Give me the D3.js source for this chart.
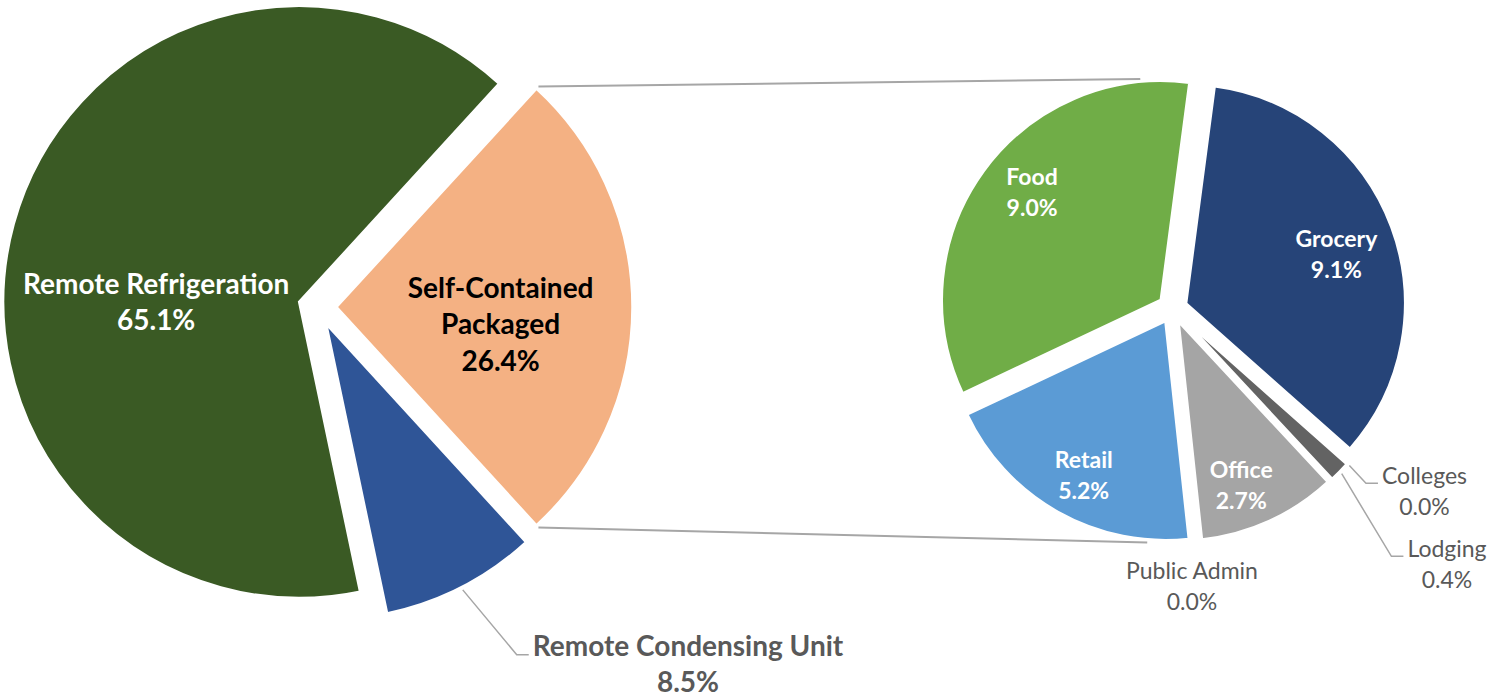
<!DOCTYPE html>
<html>
<head>
<meta charset="utf-8">
<script src="https://cdn.jsdelivr.net/npm/d3@7/dist/d3.min.js"></script>
<style>
  html, body { margin: 0; padding: 0; background: #ffffff; }
  svg { display: block; }
  text { font-family: Lato, "Open Sans", "DejaVu Sans", sans-serif; }
</style>
</head>
<body>
<svg id="chart" width="1500" height="697"></svg>
<script>
// Primary pie: refrigeration equipment type, share of total (%), in clockwise order
const equipTypes  = ["Self-Contained Packaged", "Remote Condensing Unit", "Remote Refrigeration"];
const equipShares = [26.4, 8.5, 65.1];
// The primary slice that is broken out into the secondary pie
const splitType = "Self-Contained Packaged";

// Secondary pie: Self-Contained Packaged by building type (%), clockwise from the top
const bldgTypes  = ["Grocery", "Colleges", "Lodging", "Office", "Public Admin", "Retail", "Food"];
const bldgShares = [9.1, 0.0, 0.4, 2.7, 0.0, 5.2, 9.0];

const colors = {
  "Remote Refrigeration": "#3a5a24",
  "Self-Contained Packaged": "#f4b183",
  "Remote Condensing Unit": "#2f5597",
  "Grocery": "#264478",
  "Colleges": "#a5a5a5",
  "Lodging": "#636363",
  "Office": "#a5a5a5",
  "Public Admin": "#7f7f7f",
  "Retail": "#5b9bd5",
  "Food": "#70ad47"
};

const deg = Math.PI / 180;
const fmtPct = v => d3.format(".1f")(v) + "%";
const svg = d3.select("#chart");

// ---- layout ----
const P1 = { cx: 317.5, cy: 307, r: 296, explode: 19 };
const P2 = { cx: 1172.5, cy: 308.5, r: 219, explode: 14.5, start: 7.5 * deg };

const polar = (cx, cy, r, a) => [cx + r * Math.sin(a), cy - r * Math.cos(a)];
const mid = d => (d.startAngle + d.endAngle) / 2;

// primary pie: split slice centred on the 3 o'clock direction
const splitIdx = equipTypes.indexOf(splitType);
const total1 = d3.sum(equipShares);
const startBefore = d3.sum(equipShares.slice(0, splitIdx));
const split0 = Math.PI / 2 - (equipShares[splitIdx] / total1) * Math.PI - (startBefore / total1) * 2 * Math.PI;

const pie1 = d3.pie().sort(null).value(d => d.value)
  .startAngle(split0).endAngle(split0 + 2 * Math.PI);
const pie2 = d3.pie().sort(null).value(d => d.value)
  .startAngle(P2.start).endAngle(P2.start + 2 * Math.PI);

const arcs1 = pie1(equipTypes.map((n, i) => ({ name: n, value: equipShares[i] })));
const arcs2 = pie2(bldgTypes.map((n, i) => ({ name: n, value: bldgShares[i] })));

// exploded vertex of each slice
arcs1.forEach(d => { d.vx = polar(P1.cx, P1.cy, P1.explode, mid(d)); });
arcs2.forEach(d => { d.vx = polar(P2.cx, P2.cy, P2.explode, mid(d)); });

const arc1 = d3.arc().innerRadius(0).outerRadius(P1.r);
const arc2 = d3.arc().innerRadius(0).outerRadius(P2.r);

// ---- connector lines between the split slice and the secondary pie ----
const split = arcs1[splitIdx];
const slice2At = a => {
  const t = ((a - P2.start) % (2 * Math.PI) + 2 * Math.PI) % (2 * Math.PI) + P2.start;
  return arcs2.find(d => t >= d.startAngle && t < d.endAngle && d.value > 0);
};
const connectorEnds = [
  { from: split.startAngle, to: -5.3 * deg },
  { from: split.endAngle, to: 184.7 * deg }
];
svg.append("g").attr("class", "connectors")
  .selectAll("line").data(connectorEnds).join("line")
  .attr("x1", d => polar(split.vx[0], split.vx[1], P1.r + 3, d.from)[0])
  .attr("y1", d => polar(split.vx[0], split.vx[1], P1.r + 3, d.from)[1])
  .attr("x2", d => { const s = slice2At(d.to); return polar(s.vx[0], s.vx[1], P2.r + 3, d.to)[0]; })
  .attr("y2", d => { const s = slice2At(d.to); return polar(s.vx[0], s.vx[1], P2.r + 3, d.to)[1]; })
  .attr("stroke", "#a6a6a6").attr("stroke-width", 2);

// ---- slices ----
svg.append("g").attr("class", "primary")
  .selectAll("path").data(arcs1).join("path")
  .attr("transform", d => `translate(${d.vx[0]},${d.vx[1]})`)
  .attr("d", arc1)
  .attr("fill", d => colors[d.data.name])
  .attr("stroke", "#ffffff").attr("stroke-width", 2.5).attr("stroke-linejoin", "miter");

svg.append("g").attr("class", "secondary")
  .selectAll("path").data(arcs2.filter(d => d.value > 0)).join("path")
  .attr("transform", d => `translate(${d.vx[0]},${d.vx[1]})`)
  .attr("d", arc2)
  .attr("fill", d => colors[d.data.name])
  .attr("stroke", "#ffffff").attr("stroke-width", 2.5).attr("stroke-linejoin", "miter");

// ---- data labels ----
// inside labels: polar position (angle, distance) from the slice vertex
// outside labels: block centre plus a leader line from the slice edge
const labelStyle = {
  bigBold:   { size: 28, weight: 700, lh: 36.7 },
  smallBold: { size: 23, weight: 700, lh: 31 },
  small:     { size: 23, weight: 400, lh: 30.5 }
};
const labels1 = {
  "Remote Refrigeration":    { lines: ["Remote Refrigeration"], style: "bigBold", fill: "#ffffff", angle: 270, dist: 143 },
  "Self-Contained Packaged": { lines: ["Self-Contained", "Packaged"], style: "bigBold", fill: "#000000", angle: 96, dist: 165 },
  "Remote Condensing Unit":  { lines: ["Remote Condensing Unit"], style: "bigBold", fill: "#595959", at: [688, 664], leader: true }
};
const labels2 = {
  "Food":         { lines: ["Food"], style: "smallBold", fill: "#ffffff", angle: 310, dist: 168 },
  "Grocery":      { lines: ["Grocery"], style: "smallBold", fill: "#ffffff", angle: 72, dist: 158 },
  "Retail":       { lines: ["Retail"], style: "smallBold", fill: "#ffffff", angle: 208, dist: 174 },
  "Office":       { lines: ["Office"], style: "smallBold", fill: "#ffffff", angle: 159, dist: 175 },
  "Colleges":     { lines: ["Colleges"], style: "small", fill: "#595959", at: [1424.5, 491.3], leader: true },
  "Lodging":      { lines: ["Lodging"], style: "small", fill: "#595959", at: [1447, 564.3], leader: true },
  "Public Admin": { lines: ["Public Admin"], style: "small", fill: "#595959", at: [1192, 586.3], leader: false }
};

const gLabels = svg.append("g").attr("class", "labels");
const gLeaders = svg.append("g").attr("class", "leaders");

function drawLabel(d, cfg, pie) {
  const st = labelStyle[cfg.style];
  const lines = cfg.lines.concat([fmtPct(d.data.value)]);
  let cx, cy;
  if (cfg.at) { [cx, cy] = cfg.at; }
  else { [cx, cy] = polar(d.vx[0], d.vx[1], cfg.dist, cfg.angle * deg); }
  const capHalf = 0.36 * st.size;
  const y0 = cy - (lines.length - 1) * st.lh / 2 + capHalf;
  const t = gLabels.append("text")
    .attr("text-anchor", "middle")
    .attr("fill", cfg.fill)
    .attr("font-size", st.size)
    .attr("font-weight", st.weight);
  lines.forEach((s, i) => {
    t.append("tspan").attr("x", cx).attr("y", y0 + i * st.lh).text(s);
  });
  if (cfg.leader) {
    const first = t.select("tspan").node();
    const w = first.getComputedTextLength();
    const end = [cx - w / 2 - 4, y0 - 1];
    const elbow = [end[0] - 12, end[1]];
    const start = polar(d.vx[0], d.vx[1], pie.r + 3, mid(d));
    gLeaders.append("polyline")
      .attr("points", [start, elbow, end].map(p => p.join(",")).join(" "))
      .attr("fill", "none").attr("stroke", "#a6a6a6").attr("stroke-width", 1.5);
  }
}

arcs1.forEach(d => { const c = labels1[d.data.name]; if (c) drawLabel(d, c, P1); });
arcs2.forEach(d => { const c = labels2[d.data.name]; if (c) drawLabel(d, c, P2); });
</script>
</body>
</html>
